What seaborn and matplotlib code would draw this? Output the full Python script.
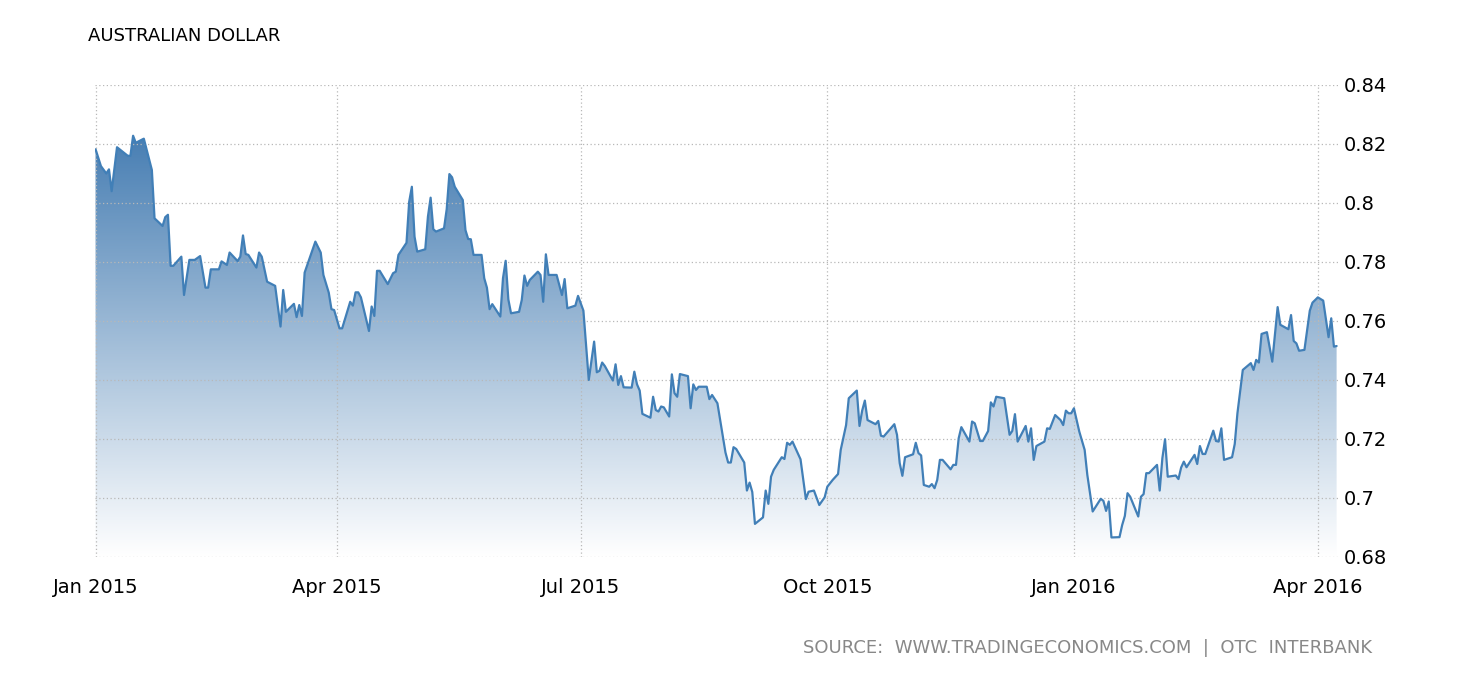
import numpy as np
import pandas as pd
import seaborn as sns
import matplotlib.pyplot as plt
import matplotlib.dates as mdates
from matplotlib.colors import LinearSegmentedColormap

# AUD/USD; days counted from 2015-01-01
start = "2015-01-01"
days = [
    0, 2, 4, 5, 6, 8, 12, 13, 14, 15,
    18, 21, 22, 25, 26, 27, 28, 29, 32, 33,
    35, 37, 39, 41, 42, 43, 46, 47, 49, 50,
    53, 54, 55, 56, 57, 60, 61, 62, 64, 67,
    69, 70, 71, 74, 75, 76, 77, 78, 82, 84,
    85, 87, 88, 89, 91, 92, 95, 96, 97, 98,
    99, 102, 103, 104, 105, 106, 109, 111, 112, 113,
    116, 117, 118, 119, 120, 123, 124, 125, 126, 127,
    130, 131, 132, 133, 134, 137, 138, 139, 140, 141,
    144, 145, 146, 147, 148, 151, 152, 153, 154, 155,
    158, 159, 160, 161, 162, 165, 166, 167, 168, 169,
    172, 174, 175, 176, 179, 180, 182, 184, 186, 187,
    188, 189, 190, 193, 194, 195, 196, 197, 200, 201,
    202, 203, 204, 207, 208, 209, 210, 211, 212, 214,
    215, 216, 217, 218, 221, 222, 223, 224, 225, 228,
    229, 230, 232, 235, 236, 237, 238, 239, 242, 243,
    244, 245, 246, 249, 250, 251, 252, 253, 256, 257,
    258, 259, 260, 263, 265, 266, 268, 270, 272, 273,
    275, 277, 278, 280, 281, 284, 285, 286, 287, 288,
    291, 292, 293, 294, 298, 299, 300, 301, 302, 305,
    306, 307, 308, 309, 311, 312, 313, 314, 315, 316,
    319, 320, 321, 322, 323, 326, 327, 328, 330, 331,
    333, 334, 335, 336, 339, 341, 342, 343, 344, 347,
    348, 349, 350, 351, 354, 355, 356, 358, 360, 361,
    362, 363, 364, 365, 367, 369, 370, 372, 375, 376,
    377, 378, 379, 382, 383, 384, 385, 386, 389, 390,
    391, 392, 393, 396, 397, 398, 399, 400, 403, 404,
    405, 406, 407, 410, 411, 412, 413, 414, 417, 418,
    419, 420, 421, 424, 425, 426, 428, 431, 432, 433,
    434, 435, 437, 439, 441, 442, 445, 446, 447, 448,
    449, 451, 453, 454, 456, 458, 460, 461, 462, 463,
]
rate = [
    .8182, .8125, .8100, .8114, .8040, .8189, .8160, .8160, .8228, .8204,
    .8218, .8112, .7948, .7922, .7952, .7960, .7787, .7787, .7818, .7688,
    .7807, .7807, .7820, .7713, .7713, .7775, .7775, .7802, .7790, .7832,
    .7803, .7818, .7890, .7827, .7824, .7781, .7832, .7818, .7733, .7719,
    .7581, .7705, .7631, .7658, .7613, .7654, .7617, .7764, .7869, .7832,
    .7756, .7696, .7640, .7637, .7575, .7575, .7665, .7652, .7697, .7697,
    .7680, .7566, .7649, .7617, .7770, .7770, .7725, .7762, .7767, .7824,
    .7865, .8004, .8055, .7886, .7835, .7843, .7954, .8018, .7911, .7903,
    .7914, .7979, .8098, .8087, .8055, .8010, .7908, .7878, .7877, .7824,
    .7824, .7745, .7713, .7640, .7657, .7615, .7745, .7804, .7673, .7626,
    .7631, .7671, .7754, .7719, .7739, .7767, .7756, .7665, .7826, .7756,
    .7756, .7688, .7742, .7643, .7652, .7685, .7635, .7400, .7530, .7426,
    .7431, .7459, .7447, .7398, .7453, .7383, .7413, .7375, .7374, .7428,
    .7385, .7364, .7285, .7272, .7343, .7298, .7293, .7310, .7307, .7276,
    .7419, .7355, .7343, .7420, .7413, .7304, .7385, .7366, .7377, .7377,
    .7335, .7349, .7321, .7154, .7120, .7120, .7172, .7166, .7120, .7025,
    .7052, .7020, .6912, .6934, .7025, .6980, .7072, .7095, .7138, .7132,
    .7187, .7180, .7191, .7131, .6996, .7021, .7025, .6976, .7002, .7038,
    .7061, .7081, .7163, .7247, .7338, .7364, .7244, .7296, .7330, .7264,
    .7250, .7261, .7211, .7208, .7250, .7214, .7118, .7075, .7138, .7148,
    .7187, .7152, .7144, .7044, .7038, .7047, .7033, .7061, .7129, .7129,
    .7097, .7112, .7112, .7202, .7240, .7191, .7259, .7253, .7193, .7193,
    .7227, .7324, .7310, .7343, .7338, .7214, .7227, .7284, .7191, .7244,
    .7191, .7236, .7129, .7176, .7191, .7236, .7234, .7281, .7264, .7247,
    .7296, .7287, .7287, .7304, .7225, .7163, .7078, .6954, .6997, .6990,
    .6956, .6988, .6866, .6867, .6908, .6939, .7016, .7004, .6937, .7004,
    .7013, .7084, .7084, .7112, .7025, .7135, .7199, .7072, .7076, .7064,
    .7103, .7123, .7104, .7146, .7115, .7176, .7149, .7149, .7228, .7193,
    .7191, .7236, .7129, .7138, .7183, .7287, .7434, .7457, .7434, .7468,
    .7459, .7556, .7562, .7462, .7647, .7587, .7572, .7620, .7532, .7524,
    .7499, .7502, .7635, .7662, .7680, .7669, .7545, .7609, .7513, .7515,
]
y_ticks = [0.68, 0.70, 0.72, 0.74, 0.76, 0.78, 0.80, 0.82, 0.84]

df = pd.DataFrame({
    "date": pd.Timestamp(start) + pd.to_timedelta(days, unit="D"),
    "rate": rate,
})

sns.set_style("white")
plt.rcParams["font.family"] = ["DejaVu Sans"]

fig = plt.figure(figsize=(14.6, 6.8), dpi=100)
ax = fig.add_axes([0.065, 0.181, 0.8514, 0.694])

ymin, ymax = 0.68, 0.84
xmin = pd.Timestamp("2014-12-31 18:00")
xmax = pd.Timestamp("2016-04-08 12:00")

sns.lineplot(data=df, x="date", y="rate", ax=ax, color="#417fb7",
             linewidth=1.6, zorder=3)

# gradient area under the line, grid stays visible on top of it
poly = ax.fill_between(df["date"], df["rate"], ymin, color="none", lw=0)
cmap = LinearSegmentedColormap.from_list("fade", ["#ffffff", "#326faa"])
grad = np.linspace(0, 1, 256).reshape(-1, 1)
img = ax.imshow(grad, cmap=cmap, aspect="auto", origin="lower",
                extent=[mdates.date2num(xmin), mdates.date2num(xmax), ymin, ymax],
                zorder=0.2)
img.set_clip_path(poly.get_paths()[0], transform=ax.transData)

ax.set_xlim(xmin, xmax)
ax.set_ylim(ymin, ymax)
ax.set_yticks(y_ticks)
ax.set_yticklabels([f"{v:g}" for v in y_ticks])
ax.yaxis.tick_right()
ax.xaxis.set_major_locator(mdates.MonthLocator(bymonth=[1, 4, 7, 10]))
ax.xaxis.set_major_formatter(mdates.DateFormatter("%b %Y"))

ax.set_axisbelow(True)
ax.grid(True, color="#b8b8b8", linestyle=(0, (1, 2)), linewidth=0.9, zorder=1)
for s in ax.spines.values():
    s.set_visible(False)
ax.tick_params(axis="x", length=5, width=1, color="#cccccc", pad=10,
               labelsize=14, labelcolor="black")
ax.tick_params(axis="y", length=0, pad=4, labelsize=14, labelcolor="black")
ax.set_xlabel("")
ax.set_ylabel("")

fig.text(0.0603, 0.9397, "AUSTRALIAN DOLLAR", fontsize=13, color="black",
         ha="left", va="baseline")
fig.text(0.9397, 0.0397, "SOURCE:  WWW.TRADINGECONOMICS.COM  |  OTC  INTERBANK",
         fontsize=13, color="#888888", ha="right", va="baseline")

fig.savefig("out.png", dpi=100)
